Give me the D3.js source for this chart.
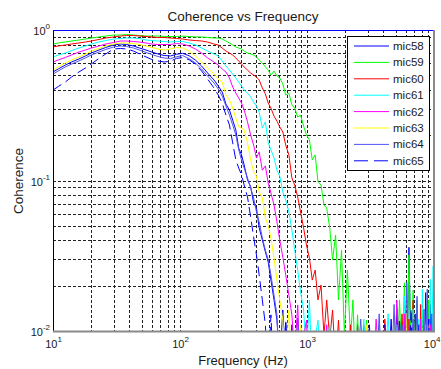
<!DOCTYPE html>
<html>
<head>
<meta charset="utf-8">
<script src="https://cdn.jsdelivr.net/npm/d3@7"></script>
<style>
  body { margin: 0; background: #fff; }
  svg text { font-family: "Liberation Sans", Arial, sans-serif; fill: #1a1a1a; }
</style>
</head>
<body>
<svg id="chart" width="441" height="369"></svg>
<script>
// frequency grid (Hz), shared by every mic
const freq = [
  10, 11, 12.5, 14, 16, 18, 20, 23, 26, 30, 34, 38, 43, 48, 54, 60, 67, 75, 84, 94, 105, 118, 132, 148, 165, 185, 200,
  215, 230, 245, 260, 275, 290, 305, 320, 340, 360, 380, 400, 420, 445, 470, 495, 520, 550, 580, 610, 645, 680, 720, 760,
  800, 845, 890, 940, 990, 1045, 1100, 1160, 1220, 1290, 1360, 1430, 1510, 1590, 1680, 1770, 1870, 1970, 2080, 2200,
  2300, 2400, 2500, 2650, 2800, 2950, 3100, 3300, 3500, 3700, 3900, 4100, 4350, 4600, 4850, 5100, 5350, 5600, 5850,
  6100, 6350, 6600, 6850, 7100, 7350, 7600, 7850, 8100, 8350, 8600, 8850, 9100, 9350, 9600, 9850, 10000
];

const mic58 = [
  0.526, 0.551, 0.585, 0.613, 0.642, 0.672, 0.703, 0.736, 0.765, 0.795, 0.807, 0.801, 0.783, 0.759, 0.736, 0.714, 0.693, 0.677, 0.672, 0.690, 0.700, 0.674, 0.632, 0.576, 0.518, 0.466, 0.425,
  0.387, 0.322, 0.294, 0.252, 0.217, 0.164, 0.148, 0.127, 0.101, 0.091, 0.0709, 0.0657, 0.0485, 0.0403, 0.0336, 0.0287, 0.0218, 0.0161, 0.0118, 0.006, 0.0138, 0.005,
  0.004, 0.011, 0.005, 0.004, 0.006, 0.005, 0.004, 0.007, 0.005, 0.004, 0.006, 0.004, 0.005, 0.004, 0.006, 0.005, 0.004, 0.005, 0.004, 0.006, 0.004, 0.005,
  0.004, 0.006, 0.005, 0.004, 0.006, 0.005, 0.011, 0.004, 0.006, 0.005, 0.004, 0.006, 0.005, 0.012, 0.004, 0.014, 0.006, 0.005,
  0.012, 0.004, 0.036, 0.006, 0.005, 0.013, 0.004, 0.006, 0.011, 0.005, 0.004, 0.018, 0.006, 0.005, 0.015, 0.004, 0.006, 0.011
];
const mic59 = [
  0.807, 0.820, 0.832, 0.845, 0.858, 0.871, 0.885, 0.899, 0.912, 0.926, 0.926, 0.933, 0.926, 0.919, 0.912, 0.912, 0.912, 0.906, 0.905, 0.905, 0.910, 0.905, 0.899, 0.899, 0.892, 0.885, 0.885,
  0.871, 0.845, 0.820, 0.795, 0.771, 0.759, 0.748, 0.725, 0.703, 0.693, 0.682, 0.662, 0.632, 0.604, 0.568, 0.542, 0.502, 0.534, 0.495, 0.480, 0.438, 0.370,
  0.381, 0.318, 0.303, 0.264, 0.272, 0.230, 0.201, 0.186, 0.137, 0.148, 0.0985, 0.0933, 0.0688, 0.0655, 0.0485, 0.0297, 0.0434, 0.0161, 0.0345, 0.0094, 0.0254, 0.0088,
  0.0161, 0.006, 0.0128, 0.005, 0.007, 0.0118, 0.004, 0.006, 0.007, 0.011, 0.005, 0.004, 0.008, 0.006, 0.011, 0.005, 0.0161, 0.006,
  0.0209, 0.005, 0.032, 0.007, 0.0187, 0.005, 0.0161, 0.006, 0.008, 0.0138, 0.005, 0.011, 0.006, 0.0161, 0.005, 0.012, 0.007, 0.009
];
const mic60 = [
  0.771, 0.783, 0.795, 0.807, 0.820, 0.832, 0.845, 0.865, 0.885, 0.899, 0.912, 0.919, 0.919, 0.912, 0.905, 0.899, 0.892, 0.892, 0.885, 0.878, 0.871, 0.858, 0.851, 0.845, 0.832, 0.807, 0.795,
  0.759, 0.725, 0.703, 0.682, 0.652, 0.622, 0.594, 0.568, 0.542, 0.518, 0.502, 0.487, 0.466, 0.412, 0.376, 0.327, 0.303, 0.268, 0.248, 0.227, 0.210, 0.172,
  0.148, 0.104, 0.0933, 0.0777, 0.0617, 0.0485, 0.0373, 0.0305, 0.0218, 0.0254, 0.0161, 0.0202, 0.0094, 0.0161, 0.0088, 0.0138, 0.006, 0.0118, 0.005, 0.007, 0.004, 0.011,
  0.006, 0.004, 0.008, 0.005, 0.011, 0.006, 0.004, 0.007, 0.005, 0.006, 0.004, 0.012, 0.005, 0.006, 0.004, 0.007, 0.005, 0.013,
  0.006, 0.004, 0.012, 0.006, 0.016, 0.005, 0.008, 0.004, 0.015, 0.006, 0.011, 0.005, 0.004, 0.012, 0.006, 0.008, 0.005, 0.007
];
const mic61 = [
  0.662, 0.682, 0.703, 0.730, 0.759, 0.783, 0.807, 0.832, 0.851, 0.871, 0.878, 0.885, 0.885, 0.878, 0.858, 0.851, 0.845, 0.839, 0.832, 0.839, 0.839, 0.820, 0.795, 0.759, 0.725, 0.693, 0.672,
  0.623, 0.576, 0.542, 0.510, 0.480, 0.451, 0.425, 0.399, 0.381, 0.359, 0.332, 0.313, 0.285, 0.223, 0.245, 0.178, 0.160, 0.141, 0.117, 0.107, 0.084, 0.0742,
  0.0619, 0.0469, 0.0345, 0.0254, 0.0182, 0.0138, 0.007, 0.0161, 0.005, 0.009, 0.0118, 0.006, 0.004, 0.008, 0.011, 0.005, 0.004, 0.007, 0.005, 0.006, 0.004, 0.008,
  0.005, 0.009, 0.004, 0.006, 0.012, 0.005, 0.004, 0.007, 0.005, 0.006, 0.004, 0.005, 0.013, 0.005, 0.004, 0.011, 0.006, 0.005,
  0.017, 0.006, 0.008, 0.005, 0.014, 0.006, 0.004, 0.012, 0.005, 0.019, 0.006, 0.004, 0.014, 0.006, 0.022, 0.008, 0.027, 0.012
];
const mic62 = [
  0.613, 0.632, 0.657, 0.682, 0.714, 0.736, 0.759, 0.783, 0.807, 0.826, 0.845, 0.845, 0.839, 0.832, 0.820, 0.807, 0.801, 0.801, 0.801, 0.813, 0.807, 0.783, 0.748, 0.703, 0.652, 0.613, 0.585,
  0.551, 0.526, 0.480, 0.418, 0.381, 0.353, 0.327, 0.294, 0.245, 0.201, 0.172, 0.141, 0.155, 0.117, 0.125, 0.0963, 0.0826, 0.0688, 0.053, 0.0403, 0.031, 0.0236,
  0.0173, 0.0128, 0.007, 0.0149, 0.005, 0.009, 0.0118, 0.004, 0.006, 0.005, 0.008, 0.004, 0.006, 0.011, 0.005, 0.004, 0.007, 0.005, 0.004, 0.006, 0.005, 0.004,
  0.004, 0.006, 0.011, 0.005, 0.004, 0.007, 0.005, 0.004, 0.012, 0.006, 0.004, 0.005, 0.004, 0.006, 0.005, 0.016, 0.007, 0.005,
  0.013, 0.004, 0.006, 0.005, 0.011, 0.004, 0.006, 0.005, 0.012, 0.004, 0.006, 0.009, 0.005, 0.004, 0.011, 0.006, 0.005, 0.004
];
const mic63 = [
  0.542, 0.568, 0.604, 0.632, 0.662, 0.692, 0.725, 0.754, 0.783, 0.807, 0.820, 0.820, 0.813, 0.801, 0.783, 0.765, 0.748, 0.736, 0.748, 0.765, 0.759, 0.725, 0.672, 0.613, 0.559, 0.510, 0.472,
  0.451, 0.370, 0.343, 0.303, 0.260, 0.227, 0.223, 0.217, 0.178, 0.137, 0.114, 0.107, 0.0841, 0.0765, 0.0564, 0.0499, 0.0415, 0.0305, 0.0218, 0.0161, 0.0118, 0.006,
  0.0138, 0.005, 0.008, 0.004, 0.011, 0.005, 0.004, 0.006, 0.005, 0.004, 0.007, 0.005, 0.004, 0.006, 0.004, 0.005, 0.004, 0.006, 0.005, 0.004, 0.005, 0.004,
  0.005, 0.004, 0.006, 0.004, 0.005, 0.011, 0.004, 0.006, 0.005, 0.004, 0.006, 0.004, 0.005, 0.006, 0.012, 0.005, 0.004, 0.006,
  0.005, 0.013, 0.004, 0.006, 0.005, 0.004, 0.011, 0.005, 0.004, 0.006, 0.012, 0.004, 0.005, 0.006, 0.004, 0.010, 0.005, 0.004
];
const mic64 = [
  0.510, 0.534, 0.568, 0.594, 0.623, 0.652, 0.682, 0.714, 0.742, 0.771, 0.783, 0.777, 0.759, 0.736, 0.709, 0.688, 0.667, 0.652, 0.645, 0.664, 0.676, 0.645, 0.604, 0.551, 0.495, 0.445, 0.406,
  0.364, 0.313, 0.272, 0.234, 0.201, 0.160, 0.137, 0.121, 0.104, 0.0891, 0.0765, 0.0619, 0.0531, 0.0415, 0.0345, 0.0297, 0.0236, 0.0173, 0.0128, 0.005, 0.007, 0.0115,
  0.004, 0.006, 0.005, 0.0122, 0.004, 0.006, 0.005, 0.004, 0.006, 0.005, 0.004, 0.005, 0.006, 0.004, 0.005, 0.004, 0.006, 0.004, 0.005, 0.004, 0.006, 0.005,
  0.005, 0.004, 0.006, 0.012, 0.005, 0.004, 0.006, 0.005, 0.004, 0.013, 0.005, 0.004, 0.006, 0.005, 0.015, 0.004, 0.006, 0.011,
  0.005, 0.021, 0.004, 0.006, 0.012, 0.005, 0.017, 0.004, 0.006, 0.005, 0.014, 0.004, 0.019, 0.006, 0.005, 0.013, 0.004, 0.006
];
const mic65 = [
  0.399, 0.421, 0.451, 0.487, 0.526, 0.559, 0.594, 0.647, 0.693, 0.748, 0.754, 0.748, 0.725, 0.693, 0.662, 0.637, 0.623, 0.613, 0.620, 0.648, 0.655, 0.634, 0.594, 0.534, 0.472, 0.412, 0.370,
  0.327, 0.272, 0.234, 0.178, 0.137, 0.121, 0.109, 0.0933, 0.0777, 0.0572, 0.0421, 0.032, 0.0236, 0.0161, 0.011, 0.005, 0.0128, 0.004, 0.006, 0.005, 0.004, 0.0118,
  0.005, 0.004, 0.006, 0.005, 0.004, 0.005, 0.004, 0.006, 0.005, 0.004, 0.005, 0.006, 0.004, 0.005, 0.004, 0.006, 0.005, 0.004, 0.005, 0.004, 0.006, 0.005,
  0.004, 0.005, 0.006, 0.004, 0.005, 0.004, 0.006, 0.005, 0.004, 0.005, 0.006, 0.011, 0.004, 0.005, 0.006, 0.004, 0.012, 0.005,
  0.004, 0.006, 0.005, 0.014, 0.004, 0.005, 0.006, 0.011, 0.004, 0.005, 0.006, 0.004, 0.005, 0.012, 0.004, 0.006, 0.005, 0.004
];

const seriesNames = ["mic58", "mic59", "mic60", "mic61", "mic62", "mic63", "mic64", "mic65"];
const seriesValues = [mic58, mic59, mic60, mic61, mic62, mic63, mic64, mic65];
const seriesColors = ["#0000ff", "#00ff00", "#ff0000", "#00ffff", "#ff00ff", "#ffff00", "#5252f5", "#0000ff"];
const seriesDash = [null, null, null, null, null, null, null, "10,5"];

const xTickValues = [10, 100, 1000, 10000];
const yTickValues = [1, 0.1, 0.01];

const svg = d3.select("#chart");

// plot box: 10^1..10^4 horizontally, 10^-2..10^0 vertically
let x = d3.scaleLog().domain([10, 10000]).range([53, 434]);
let y = d3.scaleLog().domain([0.01, 1]).range([331, 30]);

svg.append("defs").append("clipPath").attr("id", "plotClip")
    .append("rect")
    .attr("x", 53).attr("y", 30)
    .attr("width", 381).attr("height", 301);

// dotted grid at every major and minor log tick
let grid = svg.append("g").attr("shape-rendering", "crispEdges");
grid.selectAll(".vgrid")
    .data(x.ticks().filter(d => d > 10 && d < 10000))
    .enter().append("line")
    .attr("x1", d => Math.round(x(d)) + 0.5).attr("x2", d => Math.round(x(d)) + 0.5)
    .attr("y1", 30).attr("y2", 331)
    .attr("stroke", "#222").attr("stroke-dasharray", "3,2");
grid.selectAll(".hgrid")
    .data(y.ticks().filter(d => d > 0.01 && d < 1))
    .enter().append("line")
    .attr("y1", d => Math.round(y(d)) + 0.5).attr("y2", d => Math.round(y(d)) + 0.5)
    .attr("x1", 53).attr("x2", 434)
    .attr("stroke", "#222").attr("stroke-dasharray", "3,2");

// data lines
let line = d3.line()
    .x((d, i) => x(freq[i]))
    .y(d => y(d));

let plot = svg.append("g").attr("clip-path", "url(#plotClip)");
plot.selectAll("path")
    .data(seriesValues)
    .enter().append("path")
    .attr("d", d => line(d))
    .attr("fill", "none")
    .attr("stroke", (d, i) => seriesColors[i])
    .attr("stroke-width", 1)
    .attr("stroke-dasharray", (d, i) => seriesDash[i]);

// box edges
svg.append("line").attr("x1", 53.5).attr("x2", 53.5).attr("y1", 30).attr("y2", 332)
    .attr("stroke", "#000");
svg.append("line").attr("x1", 53).attr("x2", 435).attr("y1", 30.5).attr("y2", 30.5)
    .attr("stroke", "#0000ff");
svg.append("line").attr("x1", 434).attr("x2", 434).attr("y1", 30).attr("y2", 332)
    .attr("stroke", "#8a8a8a").attr("stroke-width", 2);
svg.append("line").attr("x1", 53).attr("x2", 435).attr("y1", 331.5).attr("y2", 331.5)
    .attr("stroke", "#8a8a8a").attr("stroke-width", 2);

// axes with 10^n labels
let xAxis = d3.axisBottom(x).tickValues(xTickValues).tickSize(0).tickPadding(11).tickFormat(() => "");
let gx = svg.append("g").attr("transform", "translate(0,332)").call(xAxis);
gx.select(".domain").remove();
gx.selectAll(".tick text").attr("font-size", 11).attr("dy", 5).each(function (d) {
    let t = d3.select(this);
    t.append("tspan").text("10");
    t.append("tspan").attr("dy", -6).attr("font-size", 8).text(Math.round(Math.log10(d)));
});
// the last label sits at the window edge; pull it in so it stays whole
gx.selectAll(".tick text").filter(d => d === 10000).attr("text-anchor", "end").attr("x", 6);

let yAxis = d3.axisLeft(y).tickValues(yTickValues).tickSize(0).tickPadding(3).tickFormat(() => "");
let gy = svg.append("g").attr("transform", "translate(53,0)").call(yAxis);
gy.select(".domain").remove();
gy.selectAll(".tick text").attr("font-size", 11).attr("dy", 4.5).each(function (d) {
    let t = d3.select(this);
    t.append("tspan").text("10");
    t.append("tspan").attr("dy", -6).attr("font-size", 8).text(Math.round(Math.log10(d)));
});

// title and axis labels
svg.append("text").attr("x", 243).attr("y", 20.5).attr("text-anchor", "middle")
    .attr("font-size", 13.5).text("Coherence vs Frequency");
svg.append("text").attr("x", 243).attr("y", 364.5).attr("text-anchor", "middle")
    .attr("font-size", 13).text("Frequency (Hz)");
svg.append("text").attr("transform", "translate(22.5,181) rotate(-90)").attr("text-anchor", "middle")
    .attr("font-size", 13.5).text("Coherence");

// legend
let legend = svg.append("g");
legend.append("rect")
    .attr("x", 347.5).attr("y", 36.5).attr("width", 82).attr("height", 134)
    .attr("fill", "#fff").attr("stroke", "#000");
let items = legend.selectAll(".item")
    .data(seriesNames)
    .enter().append("g")
    .attr("transform", (d, i) => "translate(0," + (46 + i * 16.4) + ")");
items.append("line")
    .attr("x1", 354).attr("x2", 389)
    .attr("stroke", (d, i) => seriesColors[i])
    .attr("stroke-dasharray", (d, i) => seriesDash[i] ? "14,6" : null);
items.append("text")
    .attr("x", 393).attr("y", 4).attr("font-size", 11.5)
    .text(d => d);
</script>
</body>
</html>
